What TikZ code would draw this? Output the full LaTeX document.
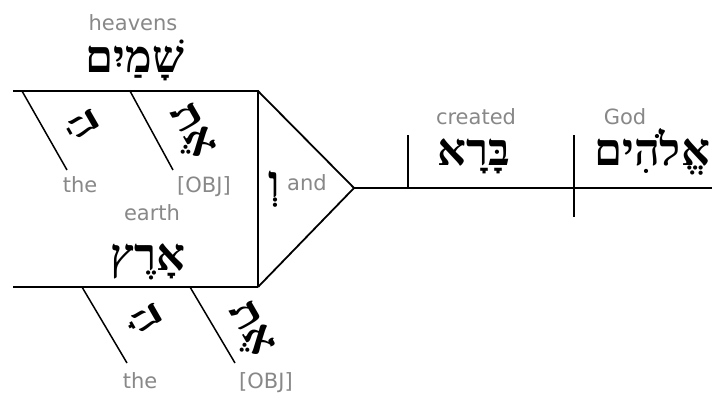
\documentclass[tikz,border=0pt]{standalone}
\usepackage{fontspec}
\setmainfont{DejaVu Sans}
\newfontfamily\hebfont[Script=Hebrew]{Liberation Serif}
\TeXXeTstate=1
\definecolor{glossgray}{RGB}{136,136,136}
\tikzset{
  x=1pt, y=-1pt,
  rule/.style={line width=1.8pt, black},
  slant/.style={line width=1.5pt, black},
  gloss/.style={font=\fontsize{21}{23}\selectfont, text=glossgray, inner sep=0pt, anchor=base},
  hebword/.style={font=\hebfont\bfseries\fontsize{45}{48}\selectfont, text=black, inner sep=0pt, anchor=base},
  hebmod/.style={font=\hebfont\bfseries\fontsize{44}{48}\selectfont, text=black, inner sep=0pt, rotate=-60}
}
\begin{document}
\begin{tikzpicture}
\useasboundingbox (0,0) rectangle (712,392);
\fill[white] (0,0) rectangle (712,392);

% compound object: two baselines joined to the conjunction
\coordinate (hL) at (13,91);  \coordinate (hR) at (258,91);
\coordinate (eL) at (13,287); \coordinate (eR) at (258,287);
\coordinate (apex) at (354,188);
\coordinate (mainR) at (712,188);
\coordinate (vt) at (408,135); \coordinate (vb) at (408,188);
\coordinate (st) at (574,135); \coordinate (sb) at (574,217);

\draw[rule] (hL) -- (hR) -- (eR);
\draw[rule] (eL) -- (eR);
\draw[rule] (hR) -- (apex) -- (eR);
\draw[rule] (apex) -- (mainR);
\draw[rule] (vt) -- (vb);
\draw[rule] (st) -- (sb);

% modifier slants
\coordinate (m1a) at (22,91);   \coordinate (m1b) at (67,170);
\coordinate (m2a) at (130,91);  \coordinate (m2b) at (173,170);
\coordinate (m3a) at (82,287);  \coordinate (m3b) at (127,363);
\coordinate (m4a) at (190,287); \coordinate (m4b) at (235,363);
\draw[slant] (m1a) -- (m1b);
\draw[slant] (m2a) -- (m2b);
\draw[slant] (m3a) -- (m3b);
\draw[slant] (m4a) -- (m4b);

% words on the baselines
\node[gloss] (heavensG) at (133,30) {heavens};
\node[hebword] (heavensH) at (135,72) {\beginR שָׁמַיִם\endR};
\node[gloss] (earthG) at (152,220) {earth};
\node[hebword] (earthH) at (148,270) {\beginR אָרֶץ\endR};
\node[gloss] (createdG) at (476,124) {created};
\node[hebword] (createdH) at (474,165) {\beginR בָּרָא\endR};
\node[gloss] (godG) at (625,124) {God};
\node[hebword, anchor=base west] (godH) at (594,165) {\beginR אֱלֹהִים\endR};

% conjunction
\node[hebword] (andH) at (274,197) {\beginR וְ\endR};
\node[gloss] (andG) at (307,190) {and};

% modifiers
\node[hebmod] (the1H) at (83,125) {\beginR הַ\endR};
\node[hebmod] (obj1H) at (190,132) {\beginR אֶת\endR};
\node[hebmod] (the2H) at (144,320) {\beginR הָ\endR};
\node[hebmod] (obj2H) at (249,330) {\beginR אֶת\endR};
\node[gloss] (the1G) at (80,192) {the};
\node[gloss] (obj1G) at (204,192) {[OBJ]};
\node[gloss] (the2G) at (140,388) {the};
\node[gloss] (obj2G) at (266,388) {[OBJ]};
\end{tikzpicture}
\end{document}
